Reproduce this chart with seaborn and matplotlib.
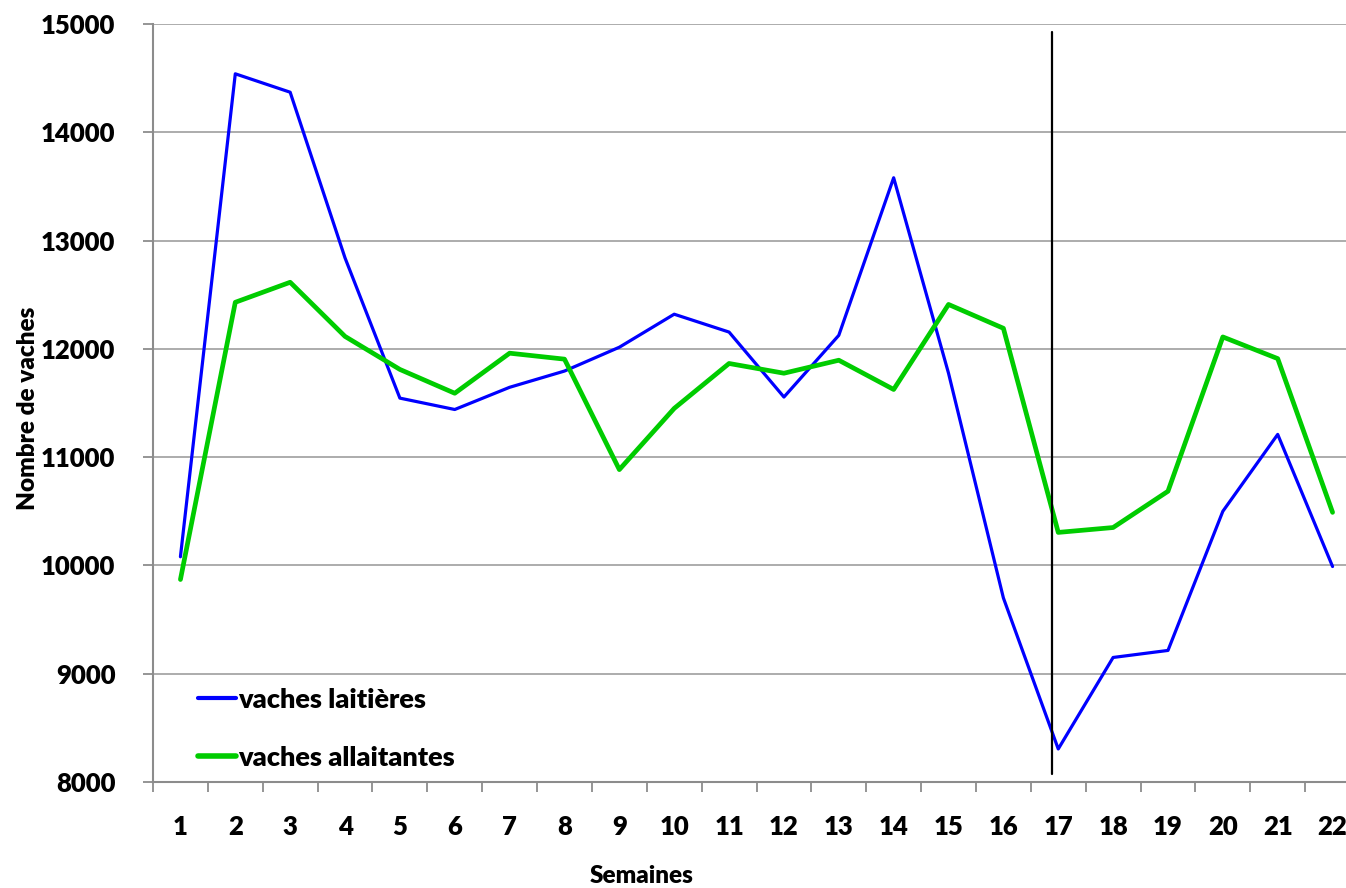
import pandas as pd
import numpy as np
import seaborn as sns
import matplotlib.pyplot as plt

semaines = list(range(1, 23))
laitieres = [10080, 14540, 14370, 12840, 11545, 11440, 11645, 11795, 12015, 12320,
             12155, 11555, 12125, 13580, 11775, 9700, 8305, 9150, 9215, 10500,
             11210, 9990]
allaitantes = [9870, 12430, 12615, 12115, 11810, 11590, 11960, 11905, 10885, 11450,
               11865, 11775, 11895, 11625, 12410, 12190, 10305, 10350, 10685, 12110,
               11910, 10490]
series_names = ['vaches laitières', 'vaches allaitantes']
series_colors = ['#0000ff', '#00cc00']
marker_week = 16.89

df = pd.DataFrame({
    'Semaines': semaines * 2,
    'Nombre': laitieres + allaitantes,
    'serie': [series_names[0]] * 22 + [series_names[1]] * 22,
})

sns.set_theme(style='white', rc={'text.color': 'black', 'axes.labelcolor': 'black',
                                 'xtick.color': 'black', 'ytick.color': 'black'})
plt.rcParams['font.family'] = ['Lato', 'DejaVu Sans']
plt.rcParams['font.weight'] = 'heavy'

fig = plt.figure(figsize=(13.46, 8.88), dpi=100)
ax = fig.add_axes([153 / 1346, 106 / 888, 1207 / 1346, 758 / 888])

sns.lineplot(data=df, x='Semaines', y='Nombre', hue='serie',
             palette=dict(zip(series_names, series_colors)), ax=ax)
for line, lw in zip(ax.lines, [2.3, 3.4]):
    line.set_linewidth(lw)

ax.set_xlim(0.5, 22.5)
ax.set_ylim(8000, 15000)
ax.set_yticks(np.arange(8000, 15001, 1000))
ax.yaxis.grid(True, color='#a6a6a6', linewidth=1.3)
ax.set_axisbelow(True)

ax.set_xticks(np.arange(0.5, 23, 1))
ax.set_xticklabels([])
ax.set_xticks(semaines, minor=True)
ax.set_xticklabels([str(s) for s in semaines], minor=True)
ax.tick_params(axis='x', which='major', length=7, width=1.3, color='#8c8c8c', bottom=True)
ax.tick_params(axis='x', which='minor', length=0, pad=24, labelsize=18.5, labelcolor='black')
ax.tick_params(axis='y', length=7, width=1.3, color='#8c8c8c', left=True, labelsize=18.5,
               pad=20, labelcolor='black')
for lab in ax.get_xticklabels(minor=True) + ax.get_yticklabels():
    lab.set_fontweight('heavy')

for side in ['top', 'right']:
    ax.spines[side].set_visible(False)
for side in ['left', 'bottom']:
    ax.spines[side].set_color('#8c8c8c')
    ax.spines[side].set_linewidth(1.5)

ax.plot([marker_week, marker_week], [8070, 14930], color='black', linewidth=1.6)

ax.set_xlabel('Semaines', fontsize=17.5, fontweight='heavy', va='center', color='black')
ax.set_ylabel('Nombre de vaches', fontsize=17.5, fontweight='heavy', va='center', color='black')
ax.xaxis.set_label_coords((642 - 153) / 1207, (782 - 876) / 758)
ax.yaxis.set_label_coords((28 - 153) / 1207, (782 - 408) / 758)

leg = ax.legend(loc='lower left', bbox_to_anchor=(0.017, -0.016), frameon=False,
                fontsize=19.5, handlelength=1.4, handletextpad=0.1, labelspacing=1.25)
for t in leg.get_texts():
    t.set_fontweight('heavy')
    t.set_color('black')
for h, lw in zip(leg.get_lines(), [3.0, 4.0]):
    h.set_linewidth(lw)

fig.savefig('out.png', dpi=100)
